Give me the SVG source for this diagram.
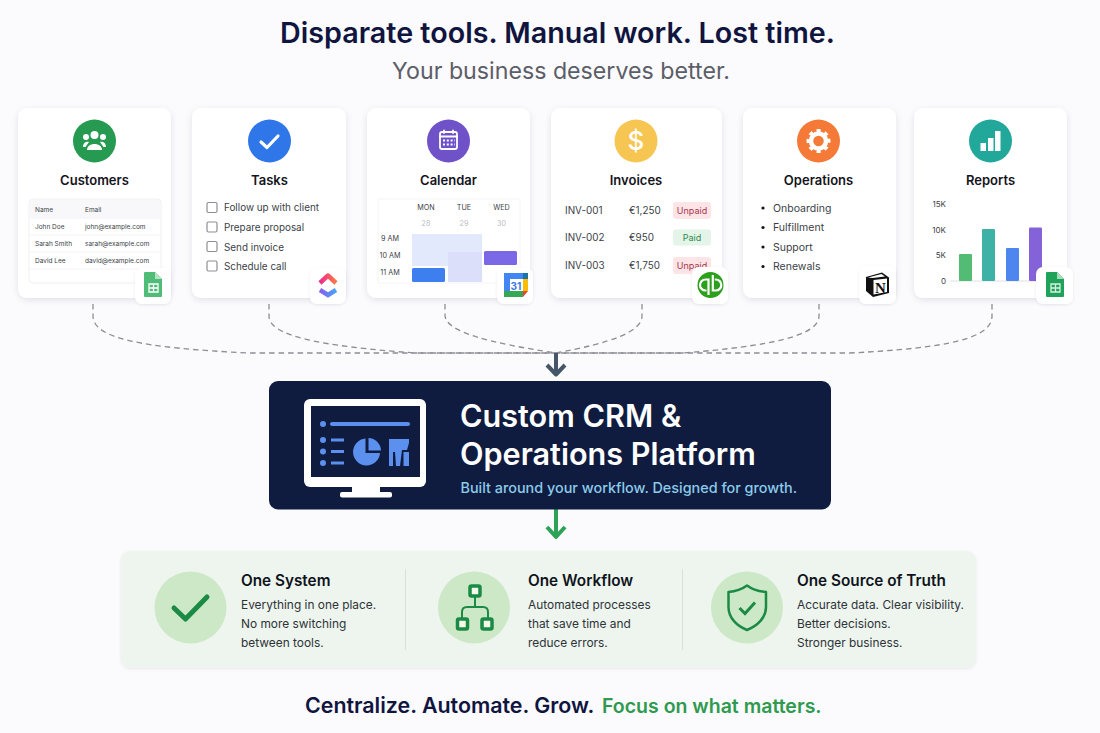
<svg xmlns="http://www.w3.org/2000/svg" width="1100" height="733" viewBox="0 0 1100 733">
<defs>
<filter id="sh" x="-15%" y="-15%" width="130%" height="130%"><feDropShadow dx="0" dy="2" stdDeviation="3" flood-color="#1a2350" flood-opacity="0.1"/></filter>
<filter id="sh2" x="-30%" y="-30%" width="160%" height="160%"><feDropShadow dx="0" dy="1" stdDeviation="1.5" flood-color="#1a2350" flood-opacity="0.08"/></filter>
<linearGradient id="cu1" x1="0" x2="1" y1="0" y2="0"><stop offset="0" stop-color="#f0288e"/><stop offset="1" stop-color="#ff7a45"/></linearGradient>
<linearGradient id="cu2" x1="0" x2="1" y1="0" y2="0"><stop offset="0" stop-color="#8a5cf0"/><stop offset="1" stop-color="#49a5f5"/></linearGradient>
</defs>
<style>
text{font-family:Inter,"Liberation Sans",sans-serif}
.card{fill:#fff;filter:url(#sh)}
.badge{fill:#fff;filter:url(#sh2)}
.ct{font-size:13px;font-weight:600;fill:#14141c;text-anchor:middle}
.s{font-size:10.500px;fill:#3c3f48}
.t{font-size:9.900px;fill:#3c3f48}
.xs{font-size:6.500px;fill:#3c3f48}
.cal{font-size:7.200px;fill:#3c3f48;text-anchor:middle}
.chk{fill:#fff;stroke:#8d8f96;stroke-width:1.200}
.ic{fill:none;stroke:#fff;stroke-linecap:round;stroke-linejoin:round}
.h{font-size:15.300px;font-weight:600;fill:#10131c}
.b{font-size:11.900px;fill:#2f3338}
.conn{fill:none;stroke:#8c8e95;stroke-width:1.300;stroke-dasharray:5.500 4}
.pill{font-size:9px;text-anchor:middle}
.sf{fill:#fff;fill-opacity:.85}
</style>
<rect width="1100" height="733" fill="#fbfafc"/>
<text x="557.500" y="43" font-size="28.700" font-weight="600" fill="#10153f" text-anchor="middle">Disparate tools. Manual work. Lost time.</text>
<text x="561" y="79" font-size="23.200" fill="#5b5e68" text-anchor="middle">Your business deserves better.</text>

<g id="connectors">
<path class="conn" d="M93 304V316C93 338 140 348 250 353H556"/>
<path class="conn" d="M269 304V316C269 336 320 346 415 353H556"/>
<path class="conn" d="M445 304V315C445 332 490 343 556 353"/>
<path class="conn" d="M642 304V316C642 332 610 343 556 353"/>
<path class="conn" d="M819 304V316C819 336 770 346 683 353H556"/>
<path class="conn" d="M992 304V316C992 338 950 348 850 353H556"/>
<path d="M556 353V374M547 365L556 374.500L565 365" fill="none" stroke="#46566a" stroke-width="4" stroke-linejoin="round"/>
<path d="M556 509V537M547 527L556 537L565 527" fill="none" stroke="#2ea358" stroke-width="4" stroke-linejoin="round"/>
</g>

<g id="customers">
<rect class="card" x="18" y="108" width="153" height="190" rx="9"/>
<circle cx="94.500" cy="141" r="21.500" fill="#259a50"/>
<g fill="#fff"><circle cx="94.500" cy="135" r="4"/><circle cx="86" cy="137" r="3"/><circle cx="103" cy="137" r="3"/><path d="M87 150C87 142 102 142 102 150Z"/><path d="M83 147C83 142 87 141 89 142L85.500 147ZM106 147C106 142 102 141 100 142L103.500 147Z"/></g>
<text class="ct" x="94.500" y="185">Customers</text>
<rect x="29" y="199" width="132" height="84" rx="4" fill="#fff" stroke="#f0f0f3"/>
<rect x="30" y="200" width="130" height="19" fill="#f8f8fa"/>
<g class="xs"><text x="35" y="212">Name</text><text x="85" y="212">Email</text>
<text x="35" y="229">John Doe</text><text x="85" y="229">john@example.com</text>
<text x="35" y="246">Sarah Smith</text><text x="85" y="246">sarah@example.com</text>
<text x="35" y="263">David Lee</text><text x="85" y="263">david@example.com</text></g>
<path d="M30 235H160M30 252H160M30 269H160" stroke="#f4f4f6"/>
<rect class="badge" x="135" y="268" width="36" height="36" rx="7"/>
<path d="M145 272H155L162 279V296Q162 297 161 297H145Q144 297 144 296V273Q144 272 145 272Z" fill="#4fbd78"/>
<path d="M155 272L162 279H155Z" fill="#b6e3c5"/>
<path d="M149 284H158V292H149ZM153.500 284V292M149 288H158" fill="none" stroke="#fff" stroke-width="1.300"/>
</g>

<g id="tasks">
<rect class="card" x="192" y="108" width="154" height="190" rx="9"/>
<circle cx="269.500" cy="141" r="21.500" fill="#2f76e8"/>
<path class="ic" stroke-width="3.200" d="M261 142L267 147.500L278 136"/>
<text class="ct" x="269.500" y="185">Tasks</text>
<rect class="chk" x="207" y="202.500" width="10" height="10" rx="1.500"/>
<rect class="chk" x="207" y="222" width="10" height="10" rx="1.500"/>
<rect class="chk" x="207" y="241.500" width="10" height="10" rx="1.500"/>
<rect class="chk" x="207" y="261" width="10" height="10" rx="1.500"/>
<text class="t" x="224" y="211">Follow up with client</text>
<text class="t" x="224" y="231">Prepare proposal</text>
<text class="t" x="224" y="250.500">Send invoice</text>
<text class="t" x="224" y="270">Schedule call</text>
<rect class="badge" x="310" y="268" width="36" height="36" rx="7"/>
<path d="M320 283L328 275.500L336 283" fill="none" stroke="url(#cu1)" stroke-width="4.500" stroke-linejoin="round"/>
<path d="M320 290L328 295L336 290" fill="none" stroke="url(#cu2)" stroke-width="4.500"/>
</g>

<g id="calendar">
<rect class="card" x="367" y="108" width="163" height="190" rx="9"/>
<circle cx="448.500" cy="141" r="21.500" fill="#7052c8"/>
<rect class="ic" stroke-width="1.800" x="440" y="132" width="17" height="17" rx="2"/>
<path class="ic" stroke-width="1.800" d="M440 136.500H457M444 130.500V133M453 130.500V133"/>
<path stroke="#fff" stroke-width="2" stroke-dasharray="2 1.800" d="M443 140.500H455M443 144.500H455"/>
<text class="ct" x="448.500" y="185">Calendar</text>
<rect x="378" y="199" width="142" height="84" fill="#fff" stroke="#f6f6f8"/>
<g class="cal"><text x="426" y="210">MON</text><text x="464" y="210">TUE</text><text x="501.500" y="210">WED</text>
<text x="426" y="226" style="fill:#b9bbc1">28</text><text x="464" y="226" style="fill:#b9bbc1">29</text><text x="501.500" y="226" style="fill:#b9bbc1">30</text>
<text x="390" y="241">9 AM</text><text x="390" y="258">10 AM</text><text x="390" y="275">11 AM</text></g>
<path d="M412 234H482V282H448V266H412Z" fill="#e3e9fc"/>
<rect x="448" y="252" width="34" height="30" fill="#dcdffa"/>
<rect x="484" y="251" width="33" height="14" rx="1.500" fill="#7b68e6"/>
<rect x="412" y="268" width="33" height="14" rx="1.500" fill="#3d7fee"/>
<rect class="badge" x="497" y="268" width="36" height="36" rx="7"/>
<rect x="504" y="273" width="24" height="24" fill="#fff"/>
<path d="M504 273H523V279H510V291H504Z" fill="#4285f4"/>
<path d="M523 273H528V279H523Z" fill="#1a73a8"/>
<path d="M523 279H528V291H523Z" fill="#fbbc04"/>
<path d="M504 291H523V297H504Z" fill="#34a853"/>
<path d="M523 291H528L523 297Z" fill="#ea4335"/>
<text x="516" y="289.500" font-size="10" font-weight="700" fill="#3b78e0" text-anchor="middle">31</text>
</g>

<g id="invoices">
<rect class="card" x="551" y="108" width="171" height="190" rx="9"/>
<circle cx="636" cy="141" r="21.500" fill="#f7c552"/>
<text x="636" y="150" font-size="26" font-weight="500" fill="#fff" text-anchor="middle">$</text>
<text class="ct" x="636" y="185">Invoices</text>
<g class="t"><text x="565" y="214">INV-001</text><text x="629" y="214">€1,250</text><text x="565" y="241">INV-002</text><text x="629" y="241">€950</text><text x="565" y="268.500">INV-003</text><text x="629" y="268.500">€1,750</text></g>
<rect x="673" y="202" width="38" height="17" rx="3" fill="#fde4e7"/>
<rect x="673" y="229.500" width="38" height="16" rx="3" fill="#e4f4e8"/>
<rect x="673" y="257" width="38" height="17" rx="3" fill="#fde4e7"/>
<text class="pill" x="692" y="214" fill="#a8384c">Unpaid</text>
<text class="pill" x="692" y="241" fill="#2e8b4f">Paid</text>
<text class="pill" x="692" y="269" fill="#a8384c">Unpaid</text>
<rect class="badge" x="692" y="267" width="36" height="37" rx="7"/>
<circle cx="710.500" cy="285" r="13" fill="#2ca01c"/>
<path d="M708.500 295V279.500H705.500A5.500 5.500 0 0 0 705.500 290.500H706.500M712.800 275V290.500H715.800A5.500 5.500 0 0 0 715.800 279.500H714.800" fill="none" stroke="#fff" stroke-width="2.200"/>
</g>

<g id="operations">
<rect class="card" x="743" y="108" width="153" height="190" rx="9"/>
<circle cx="818.500" cy="141" r="21.500" fill="#f57a38"/>
<circle cx="818.500" cy="141" r="7.500" fill="none" stroke="#fff" stroke-width="4.500"/>
<circle cx="818.500" cy="141" r="10" fill="none" stroke="#fff" stroke-width="4" stroke-dasharray="3.800 4.050" transform="rotate(-12 818.500 141)"/>
<text class="ct" x="818.500" y="185">Operations</text>
<g fill="#14141c"><circle cx="763" cy="208" r="1.600"/><circle cx="763" cy="227.500" r="1.600"/><circle cx="763" cy="247" r="1.600"/><circle cx="763" cy="266.500" r="1.600"/></g>
<text class="s" x="773" y="211.500">Onboarding</text>
<text class="s" x="773" y="231">Fulfillment</text>
<text class="s" x="773" y="250.500">Support</text>
<text class="s" x="773" y="270">Renewals</text>
<rect class="badge" x="859" y="266" width="37" height="38" rx="7"/>
<path d="M866 277L882 272.500L889 277.500V293L873 297L866 291Z" fill="#111"/>
<path d="M873.500 280L887 278.500V292L873.500 294.500Z" fill="#fff"/>
<path d="M868 277.500L881.500 274L885 276.500L872.500 278Z" fill="#fff"/>
<text x="880.300" y="292.500" font-size="15" font-weight="700" fill="#111" text-anchor="middle" style="font-family:'Liberation Serif',serif">N</text>
</g>

<g id="reports">
<rect class="card" x="914" y="108" width="153" height="190" rx="9"/>
<circle cx="990.500" cy="141" r="21.500" fill="#22a89a"/>
<g fill="#fff"><rect x="980.500" y="143" width="5.500" height="8"/><rect x="988" y="138" width="5.500" height="13"/><rect x="995" y="131" width="5.500" height="20"/></g>
<text class="ct" x="990.500" y="185">Reports</text>
<g font-size="8" fill="#3c3f48" text-anchor="end"><text x="946" y="207">15K</text><text x="946" y="232.500">10K</text><text x="946" y="258">5K</text><text x="946" y="284">0</text></g>
<path d="M950 281H1042" stroke="#dfe0e6"/>
<rect x="959" y="254" width="13" height="27" rx="1" fill="#52bb74"/>
<rect x="982" y="229" width="13" height="52" rx="1" fill="#3fb2a8"/>
<rect x="1006" y="248" width="13" height="33" rx="1" fill="#4c86ee"/>
<rect x="1029" y="227.500" width="13" height="53.500" rx="1" fill="#8463d8"/>
<rect class="badge" x="1036" y="267" width="37" height="37" rx="7"/>
<path d="M1047 272H1057L1064 279V296Q1064 297 1063 297H1047Q1046 297 1046 296V273Q1046 272 1047 272Z" fill="#1fa35a"/>
<path d="M1057 272L1064 279H1057Z" fill="#a5dcb9"/>
<path d="M1051 284H1060V292H1051ZM1055.500 284V292M1051 288H1060" fill="none" stroke="#d8f2e0" stroke-width="1.300"/>
</g>

<g id="platform">
<rect x="269" y="381" width="562" height="128.500" rx="9" fill="#0f1c40"/>
<rect x="304" y="399" width="122" height="88" rx="6" fill="#fff"/>
<rect x="352" y="486" width="28" height="7" fill="#fff"/>
<rect x="340" y="492" width="52" height="5.500" rx="2" fill="#fff"/>
<rect x="311" y="406" width="109" height="71" fill="#0f1c40"/>
<g fill="#5b90ef">
<circle cx="323" cy="424" r="3"/><rect x="330" y="422" width="80" height="4" rx="2"/>
<circle cx="323" cy="440" r="3"/><circle cx="323" cy="451.500" r="3"/><circle cx="323" cy="463" r="3"/>
<rect x="331" y="438.500" width="13" height="3"/><rect x="331" y="450" width="13" height="3"/><rect x="331" y="461.500" width="13" height="3"/>
<path d="M365.500 438.500A13.500 13.500 0 1 0 380 453H365.500Z"/><path d="M368.500 438A13 13 0 0 1 381 450.500H368.500Z"/>
<path d="M389 439H409V443L407 450H402L400 466H396L395 452H393V466H389Z"/><rect x="403.500" y="452" width="5.500" height="14"/>
</g>
<text x="460" y="427" font-size="30.600" font-weight="600" fill="#fff">Custom CRM &amp;</text>
<text x="460" y="465" font-size="30.600" font-weight="600" fill="#fff">Operations Platform</text>
<text x="460.500" y="493" font-size="14.400" font-weight="500" fill="#8ccbea">Built around your workflow. Designed for growth.</text>
</g>

<g id="benefits">
<rect x="121" y="551" width="855" height="117" rx="9" fill="#edf5ee" filter="url(#sh2)"/>
<path d="M405.500 569V650M682.500 569V650" stroke="#d8e0da"/>
<circle cx="190.500" cy="607.500" r="36" fill="#cde8c7"/>
<path d="M174 608L185.500 619L207 597" fill="none" stroke="#1b8a45" stroke-width="5" stroke-linecap="round" stroke-linejoin="round"/>
<text class="h" x="241" y="586">One System</text>
<text class="b" x="241" y="609">Everything in one place.</text>
<text class="b" x="241" y="628">No more switching</text>
<text class="b" x="241" y="647">between tools.</text>
<circle cx="474" cy="607.500" r="36" fill="#cde8c7"/>
<g fill="none" stroke="#1b8a45"><path d="M475 597V607M462 620V612Q462 607 467 607H483Q488 607 488 612V620" stroke-width="2"/>
<rect x="470" y="586" width="10" height="10" rx="1.500" fill="#f4f9ea" stroke-width="3.500"/><rect x="457.500" y="619" width="10" height="10" rx="1.500" fill="#f4f9ea" stroke-width="3.500"/><rect x="482" y="619" width="10" height="10" rx="1.500" fill="#f4f9ea" stroke-width="3.500"/></g>
<text class="h" x="528" y="586">One Workflow</text>
<text class="b" x="528" y="609">Automated processes</text>
<text class="b" x="528" y="628">that save time and</text>
<text class="b" x="528" y="647">reduce errors.</text>
<circle cx="747" cy="607.500" r="36" fill="#cde8c7"/>
<path d="M747 585.500C753 590 760 591.500 766 592V607C766 618 757 626 747 630C737 626 728.500 618 728.500 607V592C735 591.500 741 590 747 585.500Z" fill="none" stroke="#1b8a45" stroke-width="2.500" stroke-linejoin="round"/>
<path d="M739.500 608L745 613.500L755 602.500" fill="none" stroke="#1b8a45" stroke-width="3"/>
<text class="h" x="797" y="586">One Source of Truth</text>
<text class="b" x="797" y="609">Accurate data. Clear visibility.</text>
<text class="b" x="797" y="628">Better decisions.</text>
<text class="b" x="797" y="647">Stronger business.</text>
</g>

<text x="305" y="713" font-size="21.400" font-weight="600" fill="#10153f">Centralize. Automate. Grow.</text>
<text x="602" y="713" font-size="19.500" font-weight="600" fill="#2e9a4e">Focus on what matters.</text>
</svg>
